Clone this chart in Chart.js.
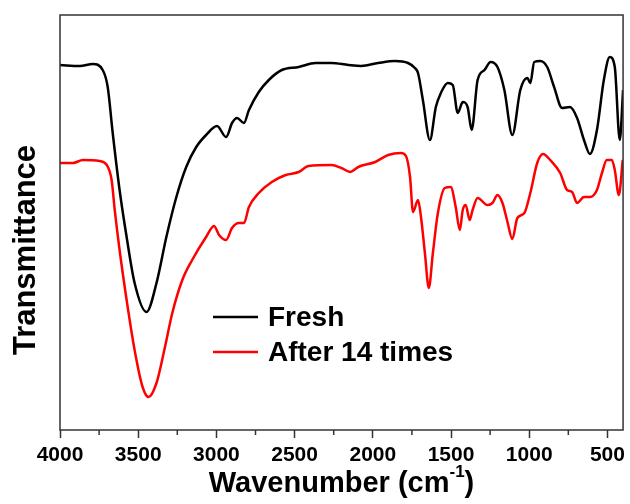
<!DOCTYPE html>
<html>
<head>
<meta charset="utf-8">
<script src="https://cdn.jsdelivr.net/npm/chart.js@4.4.0/dist/chart.umd.min.js"></script>
<style>
  html, body { margin: 0; padding: 0; background: #fff; }
  #wrap { width: 630px; height: 504px; }
</style>
</head>
<body>
<div id="wrap"><canvas id="ftir"></canvas></div>
<script>
// FTIR spectra, transmittance in arbitrary units
const freshWn = [4000, 3873, 3790, 3727, 3695, 3663, 3619, 3574, 3523, 3447, 3383, 3320, 3256, 3193,
  3129, 3066, 2996, 2938, 2900, 2868, 2824, 2792, 2729, 2665, 2582, 2474, 2366, 2264, 2156, 2074,
  1966, 1858, 1775, 1731, 1711, 1680, 1635, 1597, 1565, 1521, 1489, 1457, 1425, 1394, 1368, 1330,
  1286, 1247, 1203, 1159, 1108, 1057, 1012, 993, 968, 930, 885, 841, 790, 739, 694, 650, 612, 567,
  523, 485, 453, 421, 400];
const freshT = [365, 364, 366, 360, 343, 297, 240, 193, 147, 118, 147, 193, 233, 263,
  283, 295, 304, 293, 307, 312, 307, 320, 338, 350, 360, 363, 367, 367, 365, 364,
  367, 369, 367, 362, 357, 330, 290, 323, 337, 347, 345, 317, 328, 323, 300, 350,
  360, 368, 363, 340, 295, 340, 352, 347, 368, 369, 363, 343, 322, 323, 312, 290, 276, 300,
  350, 373, 363, 290, 340];

const agedWn = [4000, 3917, 3854, 3746, 3701, 3670, 3650, 3619, 3574, 3523, 3472, 3434, 3383, 3333,
  3282, 3218, 3155, 3066, 3015, 2983, 2938, 2900, 2856, 2824, 2792, 2729, 2646, 2557, 2474, 2411,
  2264, 2201, 2144, 2093, 1985, 1902, 1820, 1788, 1762, 1743, 1711, 1692, 1667, 1642, 1616, 1584,
  1540, 1502, 1470, 1444, 1425, 1406, 1381, 1362, 1330, 1267, 1235, 1203, 1171, 1139, 1108, 1076,
  1031, 993, 949, 911, 866, 802, 758, 726, 694, 650, 612, 567, 535, 504, 472, 453, 427, 402];
const agedT = [267, 267, 270, 269, 265, 250, 220, 180, 130, 80, 43, 33, 47, 80,
  117, 150, 170, 193, 204, 195, 190, 202, 207, 207, 223, 237, 248, 255, 258, 264,
  265, 262, 258, 263, 268, 275, 277, 274, 253, 218, 230, 213, 177, 142, 177, 217,
  242, 243, 223, 200, 220, 225, 210, 220, 232, 225, 227, 235, 227, 208, 191, 212,
  217, 237, 267, 276, 270, 257, 240, 238, 227, 233, 233, 240, 257, 270, 270, 260, 235, 270];

const seriesNames = ['Fresh', 'After 14 times'];
const majorTicks = [4000, 3500, 3000, 2500, 2000, 1500, 1000, 500];
const minorTicks = [3750, 3250, 2750, 2250, 1750, 1250, 750];

const toPoints = (xs, ys) => xs.map((v, i) => ({x: v, y: ys[i]}));

const frameAndText = {
  id: 'frameAndText',
  afterDraw(chart) {
    const {ctx, chartArea: a, scales: {x}} = chart;
    ctx.save();
    ctx.strokeStyle = '#333';
    ctx.lineWidth = 1.5;
    ctx.strokeRect(a.left, a.top, a.right - a.left, a.bottom - a.top);

    // minor ticks
    minorTicks.forEach(v => {
      const px = x.getPixelForValue(v);
      ctx.beginPath();
      ctx.moveTo(px, a.bottom);
      ctx.lineTo(px, a.bottom + 5);
      ctx.stroke();
    });

    // legend inside the plot
    ctx.fillStyle = '#000';
    ctx.font = 'bold 28px "Liberation Sans", Arial, sans-serif';
    ctx.textBaseline = 'middle';
    ctx.textAlign = 'left';
    chart.data.datasets.forEach((ds, i) => {
      const ly = 317 + i * 35;
      ctx.strokeStyle = ds.borderColor;
      ctx.lineWidth = 2.5;
      ctx.beginPath();
      ctx.moveTo(213, ly);
      ctx.lineTo(258, ly);
      ctx.stroke();
      ctx.fillText(ds.label, 268, ly + 1);
    });

    // y title
    ctx.save();
    ctx.translate(26, 250);
    ctx.rotate(-Math.PI / 2);
    ctx.textAlign = 'center';
    ctx.font = 'bold 31px "Liberation Sans", Arial, sans-serif';
    ctx.fillText('Transmittance', 0, 0);
    ctx.restore();

    // x title with superscript
    const big = 'bold 29px "Liberation Sans", Arial, sans-serif';
    const small = 'bold 17px "Liberation Sans", Arial, sans-serif';
    ctx.font = big;
    const w1 = ctx.measureText('Wavenumber (cm').width;
    const w3 = ctx.measureText(')').width;
    ctx.font = small;
    const w2 = ctx.measureText('-1').width;
    let tx = (a.left + a.right) / 2 - (w1 + w2 + w3) / 2;
    const ty = 484;
    ctx.font = big;
    ctx.fillText('Wavenumber (cm', tx, ty);
    tx += w1;
    ctx.font = small;
    ctx.fillText('-1', tx, ty - 12);
    tx += w2;
    ctx.font = big;
    ctx.fillText(')', tx, ty);
    ctx.restore();
  }
};

new Chart(document.getElementById('ftir'), {
  type: 'line',
  data: {
    datasets: [
      {
        label: seriesNames[0],
        data: toPoints(freshWn, freshT),
        borderColor: '#000000',
      },
      {
        label: seriesNames[1],
        data: toPoints(agedWn, agedT),
        borderColor: '#ff0000',
      }
    ]
  },
  options: {
    responsive: true,
    maintainAspectRatio: false,
    animation: false,
    layout: { padding: { left: 60, top: 15, right: 2, bottom: 0 } },
    elements: {
      point: { radius: 0 },
      line: { borderWidth: 2.5, cubicInterpolationMode: 'monotone', fill: false }
    },
    plugins: {
      legend: { display: false },
      tooltip: { enabled: false }
    },
    scales: {
      x: {
        type: 'linear',
        reverse: true,
        min: 400,
        max: 4000,
        afterBuildTicks: (scale) => {
          scale.ticks = majorTicks.map(v => ({value: v}));
        },
        afterFit: (scale) => { scale.height = 74; },
        ticks: {
          color: '#000',
          maxRotation: 0,
          padding: 5,
          callback: (v) => String(v),
          font: { family: '"Liberation Sans", Arial, sans-serif', size: 21, weight: 'bold' },
        },
        grid: {
          drawOnChartArea: false,
          drawTicks: true,
          tickLength: 8,
          tickColor: '#333',
          tickWidth: 1.5,
        },
        border: { display: false },
      },
      y: {
        min: 0,
        max: 415,
        afterFit: (scale) => { scale.width = 0; },
        ticks: { display: false },
        grid: { display: false, drawTicks: false },
        border: { display: false },
      }
    }
  },
  plugins: [frameAndText]
});
</script>
</body>
</html>
